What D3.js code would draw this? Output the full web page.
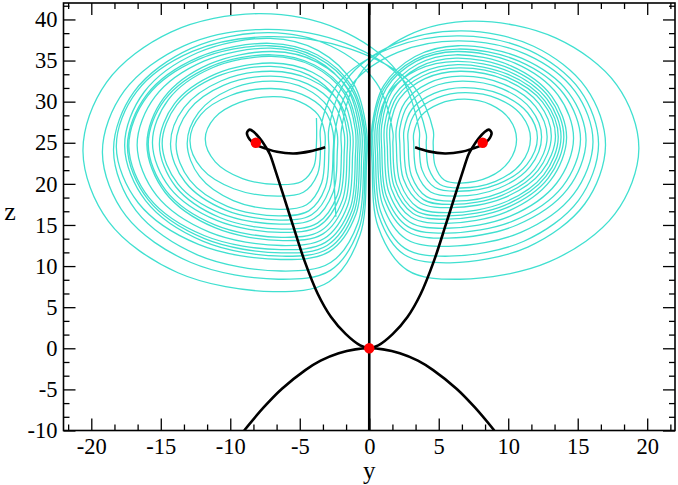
<!DOCTYPE html>
<html>
<head>
<meta charset="utf-8">
<script src="https://cdn.jsdelivr.net/npm/d3@7"></script>
<style>
  body { margin: 0; background: #fff; }
  svg { display: block; }
</style>
</head>
<body>
<div id="chart"></div>
<script>
// tick labels
const yTicks = [-20, -15, -10, -5, 0, 5, 10, 15, 20];
const zTicks = [-10, -5, 0, 5, 10, 15, 20, 25, 30, 35, 40];

// fixed points (y, z)
const fixedPoints = [[-8.16, 25], [0, 0], [8.16, 25]];

// black curves (y, z)
const zAxisLine = [[0, -10], [0, 42]];
const lowerCurve = [[-9.0, -10], [-7.6, -7.2], [-6.3, -4.95], [-4.6, -2.65], [-3.5, -1.5], [-2.2, -0.6], [-1, -0.13], [0, 0],
  [1, -0.13], [2.2, -0.6], [3.5, -1.5], [4.6, -2.65], [6.3, -4.95], [7.6, -7.2], [9.0, -10]];
const leftBranch = [[0, 0], [-0.65, 0.35], [-1.7, 1.75], [-2.75, 3.8], [-3.7, 6.6], [-4.65, 10.6], [-5.5, 15.0], [-6.25, 19.0],
  [-6.75, 21.6], [-7.15, 23.6], [-7.45, 24.5], [-7.86, 25.5], [-8.3, 26.3], [-8.6, 26.6], [-8.8, 26.2], [-8.6, 25.4],
  [-8.1, 24.7], [-7.45, 24.3], [-6.64, 23.9], [-5.45, 23.7], [-4.27, 23.95], [-3.17, 24.45]];
const rightBranch = [[0, 0], [0.65, 0.35], [1.7, 1.75], [2.75, 3.8], [3.7, 6.6], [4.65, 10.6], [5.5, 15.0], [6.25, 19.0],
  [6.75, 21.6], [7.15, 23.6], [7.45, 24.5], [7.86, 25.5], [8.3, 26.3], [8.6, 26.6], [8.8, 26.2], [8.6, 25.4],
  [8.1, 24.7], [7.45, 24.3], [6.64, 23.9], [5.45, 23.7], [4.27, 23.95], [3.3, 24.45]];

// attractor, loop by loop in the order the orbit runs:
// outer y extent (sign = lobe), top z, bottom z, y of the strand it comes down on
const loopOuter = [-11.8, -13.1, -14.9, -15.9, -17.4, -19.2, 11.6, 12.8, 13.6, 14.7, 16.5, -12.9, -14.3, -16.0, -18.2, 10.6, 12.4, 13.4,
  14.2, 15.6, 19.4, -15.1, -16.7, -17.6, -20.6, 12.1, 13.1, 14.0, 15.2, 17.0, -13.9, -15.6, -17.3, -18.4, 13.8, 16.1];
const loopTop = [30.6, 32.5, 34.3, 35.7, 37.1, 38.8, 31.1, 33.1, 34.5, 36.1, 38.0, 31.6, 33.7, 36.1, 37.9, 30.3, 32.5, 34.1,
  35.7, 36.8, 39.8, 34.7, 36.5, 37.7, 40.7, 31.7, 33.7, 35.3, 36.4, 38.6, 33.1, 35.5, 36.8, 38.4, 34.9, 37.4];
const loopBottom = [19.9, 16.9, 15.1, 13.5, 11.6, 8.4, 19.5, 17.9, 16.5, 14.6, 11.2, 18.5, 15.6, 13.1, 10.8, 20.1, 18.5, 17.1,
  15.2, 13.4, 8.4, 14.5, 12.5, 11.2, 6.9, 19.1, 17.5, 15.7, 14.0, 10.4, 16.1, 14.1, 12.0, 9.4, 16.1, 12.4];
const loopStrand = [-3.8, -3.2, -2.3, -1.6, -0.85, -0.3, 4.1, 2.8, 1.95, 1.1, 0.45, -3.5, -2.6, -1.4, -0.55, 4.6, 3.2, 2.2,
  1.3, 0.75, 0.2, -2.0, -1.2, -0.7, -0.2, 3.6, 2.5, 1.5, 0.9, 0.3, -2.9, -1.8, -1.0, -0.4, 1.7, 0.6];
const lastExit = -2.4;

const width = 678, height = 485;
const mLeft = 63.5, mRight = 675, mTop = 3, mBottom = 430.5;

const svg = d3.select("#chart")
  .append("svg")
  .attr("width", width)
  .attr("height", height);

const x = d3.scaleLinear().domain([-22, 22]).range([mLeft, mRight]);
const y = d3.scaleLinear().domain([-10, 42]).range([mBottom, mTop]);

svg.append("clipPath").attr("id", "plot")
  .append("rect")
  .attr("x", mLeft).attr("y", mTop)
  .attr("width", mRight - mLeft).attr("height", mBottom - mTop);

const plot = svg.append("g").attr("clip-path", "url(#plot)");

// control points of one loop, built from its read extents (ellipse quarters)
const c30 = 0.866, c60 = 0.5;
function loopPoints(outer, tz, bz, strand, exit) {
  const f = outer < 0 ? 1 : -1;           // work as if in the left lobe, mirror back after
  const l = outer * f, r = strand * f, e = exit * f;
  const zc = (tz + bz) / 2 + 0.2;
  const ht = tz - zc, hb = zc - bz, w = r - l;
  const cx = l + 0.62 * w, a = cx - l;     // upper half centre
  const cb = r - 0.33 * w, al = cb - l, ar = r - cb;   // lower half centre
  const zE = zc + 0.15 * ht, ae = e - cx, he = tz - zE;
  const pts = [
    [r, zc - 0.1 * hb],
    [cb + 0.93 * ar, zc - 0.6 * hb],
    [cb + 0.6 * ar, zc - 0.93 * hb],
    [cb, bz],
    [cb - c60 * al, zc - c30 * hb],
    [cb - c30 * al, zc - c60 * hb],
    [l, zc],
    [cx - c30 * a, zc + c60 * ht],
    [cx - c60 * a, zc + c30 * ht],
    [cx, tz],
    [cx + c60 * ae, zE + c30 * he],
    [cx + c30 * ae, zE + c60 * he],
    [e, zE]
  ];
  return pts.map(p => [p[0] * f, p[1]]);
}

let orbit = [[loopStrand[0], 28]];
loopOuter.forEach((d, i) => {
  const exit = i + 1 < loopOuter.length ? loopStrand[i + 1] : lastExit;
  orbit = orbit.concat(loopPoints(d, loopTop[i], loopBottom[i], loopStrand[i], exit));
});
orbit.push([lastExit, 16]);

const line = d3.line()
  .x(d => x(d[0]))
  .y(d => y(d[1]))
  .curve(d3.curveCatmullRom.alpha(0.5));

plot.append("path")
  .datum(orbit)
  .attr("d", line)
  .attr("fill", "none")
  .attr("stroke", "#40e0d0")
  .attr("stroke-width", 1.3);

plot.selectAll("path.curve")
  .data([zAxisLine, lowerCurve, leftBranch, rightBranch])
  .enter()
  .append("path")
  .attr("class", "curve")
  .attr("d", line)
  .attr("fill", "none")
  .attr("stroke", "#000")
  .attr("stroke-width", 2.6);

plot.selectAll("circle")
  .data(fixedPoints)
  .enter()
  .append("circle")
  .attr("cx", d => x(d[0]))
  .attr("cy", d => y(d[1]))
  .attr("r", 5.2)
  .attr("fill", "#ff0000");

// axes, ticks inside on all four sides
const minorY = d3.range(-13, 14).filter(k => k % 3 !== 0).map(k => k * 5 / 3);
const minorZ = d3.range(-6, 26).filter(k => k % 3 !== 0).map(k => k * 5 / 3);
const fmt = d => String(d);

function styleAxis(g) {
  g.select(".domain").remove();
  g.selectAll(".tick line").attr("stroke", "#000").attr("stroke-width", 1.3);
  g.attr("font-family", "'Liberation Serif', 'Times New Roman', serif").attr("font-size", 22.5);
  g.selectAll("text").attr("fill", "#000");
}

svg.append("g").attr("transform", `translate(0,${mBottom})`)
  .call(d3.axisBottom(x).tickValues(yTicks).tickSize(-12).tickSizeOuter(0).tickPadding(7.5).tickFormat(fmt))
  .call(styleAxis);
svg.append("g").attr("transform", `translate(0,${mBottom})`)
  .call(d3.axisBottom(x).tickValues(minorY).tickSize(-6).tickSizeOuter(0).tickFormat(""))
  .call(styleAxis);
svg.append("g").attr("transform", `translate(0,${mTop})`)
  .call(d3.axisTop(x).tickValues(yTicks).tickSize(-12).tickSizeOuter(0).tickFormat(""))
  .call(styleAxis);
svg.append("g").attr("transform", `translate(0,${mTop})`)
  .call(d3.axisTop(x).tickValues(minorY).tickSize(-6).tickSizeOuter(0).tickFormat(""))
  .call(styleAxis);

svg.append("g").attr("transform", `translate(${mLeft},0)`)
  .call(d3.axisLeft(y).tickValues(zTicks).tickSize(-12).tickSizeOuter(0).tickPadding(6).tickFormat(fmt))
  .call(styleAxis);
svg.append("g").attr("transform", `translate(${mLeft},0)`)
  .call(d3.axisLeft(y).tickValues(minorZ).tickSize(-6).tickSizeOuter(0).tickFormat(""))
  .call(styleAxis);
svg.append("g").attr("transform", `translate(${mRight},0)`)
  .call(d3.axisRight(y).tickValues(zTicks).tickSize(-12).tickSizeOuter(0).tickFormat(""))
  .call(styleAxis);
svg.append("g").attr("transform", `translate(${mRight},0)`)
  .call(d3.axisRight(y).tickValues(minorZ).tickSize(-6).tickSizeOuter(0).tickFormat(""))
  .call(styleAxis);

svg.append("rect")
  .attr("x", mLeft).attr("y", mTop)
  .attr("width", mRight - mLeft).attr("height", mBottom - mTop)
  .attr("fill", "none")
  .attr("stroke", "#000")
  .attr("stroke-width", 1.6);

svg.append("text")
  .attr("x", (mLeft + mRight) / 2)
  .attr("y", 479)
  .attr("text-anchor", "middle")
  .attr("font-family", "'Liberation Serif', 'Times New Roman', serif")
  .attr("font-size", 25)
  .text("y");

svg.append("text")
  .attr("x", 10)
  .attr("y", 220)
  .attr("text-anchor", "middle")
  .attr("font-family", "'Liberation Serif', 'Times New Roman', serif")
  .attr("font-size", 26)
  .text("z");
</script>
</body>
</html>
